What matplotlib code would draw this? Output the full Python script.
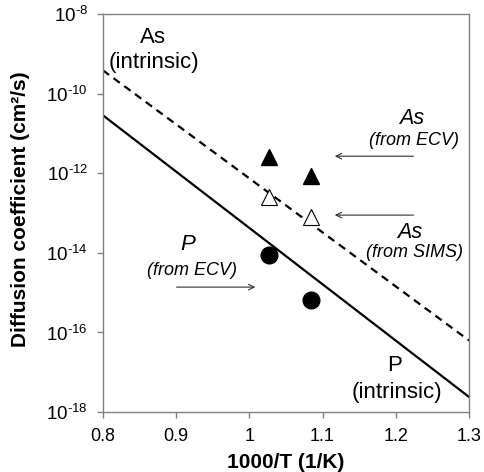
import matplotlib
matplotlib.use('Agg')
import matplotlib.pyplot as plt

plt.rcParams['font.family'] = ['Liberation Sans', 'DejaVu Sans']
plt.rcParams['mathtext.fontset'] = 'custom'
plt.rcParams['mathtext.rm'] = 'Liberation Sans'
plt.rcParams['mathtext.default'] = 'regular'

# intrinsic diffusion lines (1000/T, D)
line_x = [0.8, 1.3]
as_intrinsic = [10**-9.41, 10**-16.2]
p_intrinsic = [10**-10.54, 10**-17.62]

# measured points
meas_x = [1.027, 1.084]
as_ecv = [10**-11.59, 10**-12.07]
as_sims = [10**-12.6, 10**-13.1]
p_ecv = [10**-14.06, 10**-15.19]

xticks = [0.8, 0.9, 1.0, 1.1, 1.2, 1.3]
xticklabels = ['0.8', '0.9', '1', '1.1', '1.2', '1.3']
yticks = [1e-18, 1e-16, 1e-14, 1e-12, 1e-10, 1e-8]
yexp = [18, 16, 14, 12, 10, 8]
yticklabels = ['10$^{\u2010%d}$' % e for e in yexp]

fig = plt.figure(figsize=(4.85, 4.72), dpi=100)
ax = fig.add_axes([0.212, 0.127, 0.755, 0.843])

ax.plot(line_x, as_intrinsic, color='black', lw=1.6, ls=(0, (3.5, 2.5)))
ax.plot(line_x, p_intrinsic, color='black', lw=1.6)

ax.plot(meas_x, as_ecv, ls='none', marker='^', ms=12, color='black')
ax.plot(meas_x, as_sims, ls='none', marker='^', ms=12, mfc='white', mec='black', mew=0.8)
ax.plot(meas_x, p_ecv, ls='none', marker='o', ms=12, color='black')

ax.set_yscale('log')
ax.set_xlim(0.8, 1.3)
ax.set_ylim(1e-18, 1e-8)
ax.set_xticks(xticks)
ax.set_xticklabels(xticklabels)
ax.set_yticks(yticks)
ax.set_yticklabels(yticklabels)
ax.minorticks_off()
ax.tick_params(color='#808080', length=4.3, width=1)
ax.tick_params(axis='x', labelsize=13, pad=7)
ax.tick_params(axis='y', labelsize=13.5, pad=6.5)
for s in ax.spines.values():
    s.set_color('#808080')
    s.set_linewidth(1)

ax.set_xlabel('1000/T (1/K)', fontsize=15, fontweight='bold')
ax.set_ylabel('Diffusion coefficient (cm²/s)', fontsize=15, fontweight='bold')
ax.xaxis.set_label_coords(0.5, -0.103)
ax.yaxis.set_label_coords(-0.2, 0.51)

# labels
ax.text(0.868, 10**-8.58, 'As', fontsize=16, ha='center', va='center')
ax.text(0.870, 10**-9.22, '(intrinsic)', fontsize=16, ha='center', va='center')
ax.text(1.199, 10**-16.82, 'P', fontsize=16, ha='center', va='center')
ax.text(1.202, 10**-17.5, '(intrinsic)', fontsize=16, ha='center', va='center')

ax.text(1.222, 10**-10.61, 'As', fontsize=15.5, style='italic', ha='center', va='center')
ax.text(1.225, 10**-11.17, '(from ECV)', fontsize=13, style='italic', ha='center', va='center')
ax.text(1.219, 10**-13.48, 'As', fontsize=15.5, style='italic', ha='center', va='center')
ax.text(1.226, 10**-14.0, '(from SIMS)', fontsize=13, style='italic', ha='center', va='center')
ax.text(0.916, 10**-13.8, 'P', fontsize=16, style='italic', ha='center', va='center')
ax.text(0.922, 10**-14.43, '(from ECV)', fontsize=13, style='italic', ha='center', va='center')

arrow = dict(arrowstyle='->', color='#303030', lw=0.8)
ax.annotate('', xy=(1.113, 10**-11.57), xytext=(1.228, 10**-11.57), arrowprops=arrow)
ax.annotate('', xy=(1.113, 10**-13.05), xytext=(1.228, 10**-13.05), arrowprops=arrow)
ax.annotate('', xy=(1.012, 10**-14.86), xytext=(0.897, 10**-14.86), arrowprops=arrow)

fig.savefig('out.png', dpi=100)
